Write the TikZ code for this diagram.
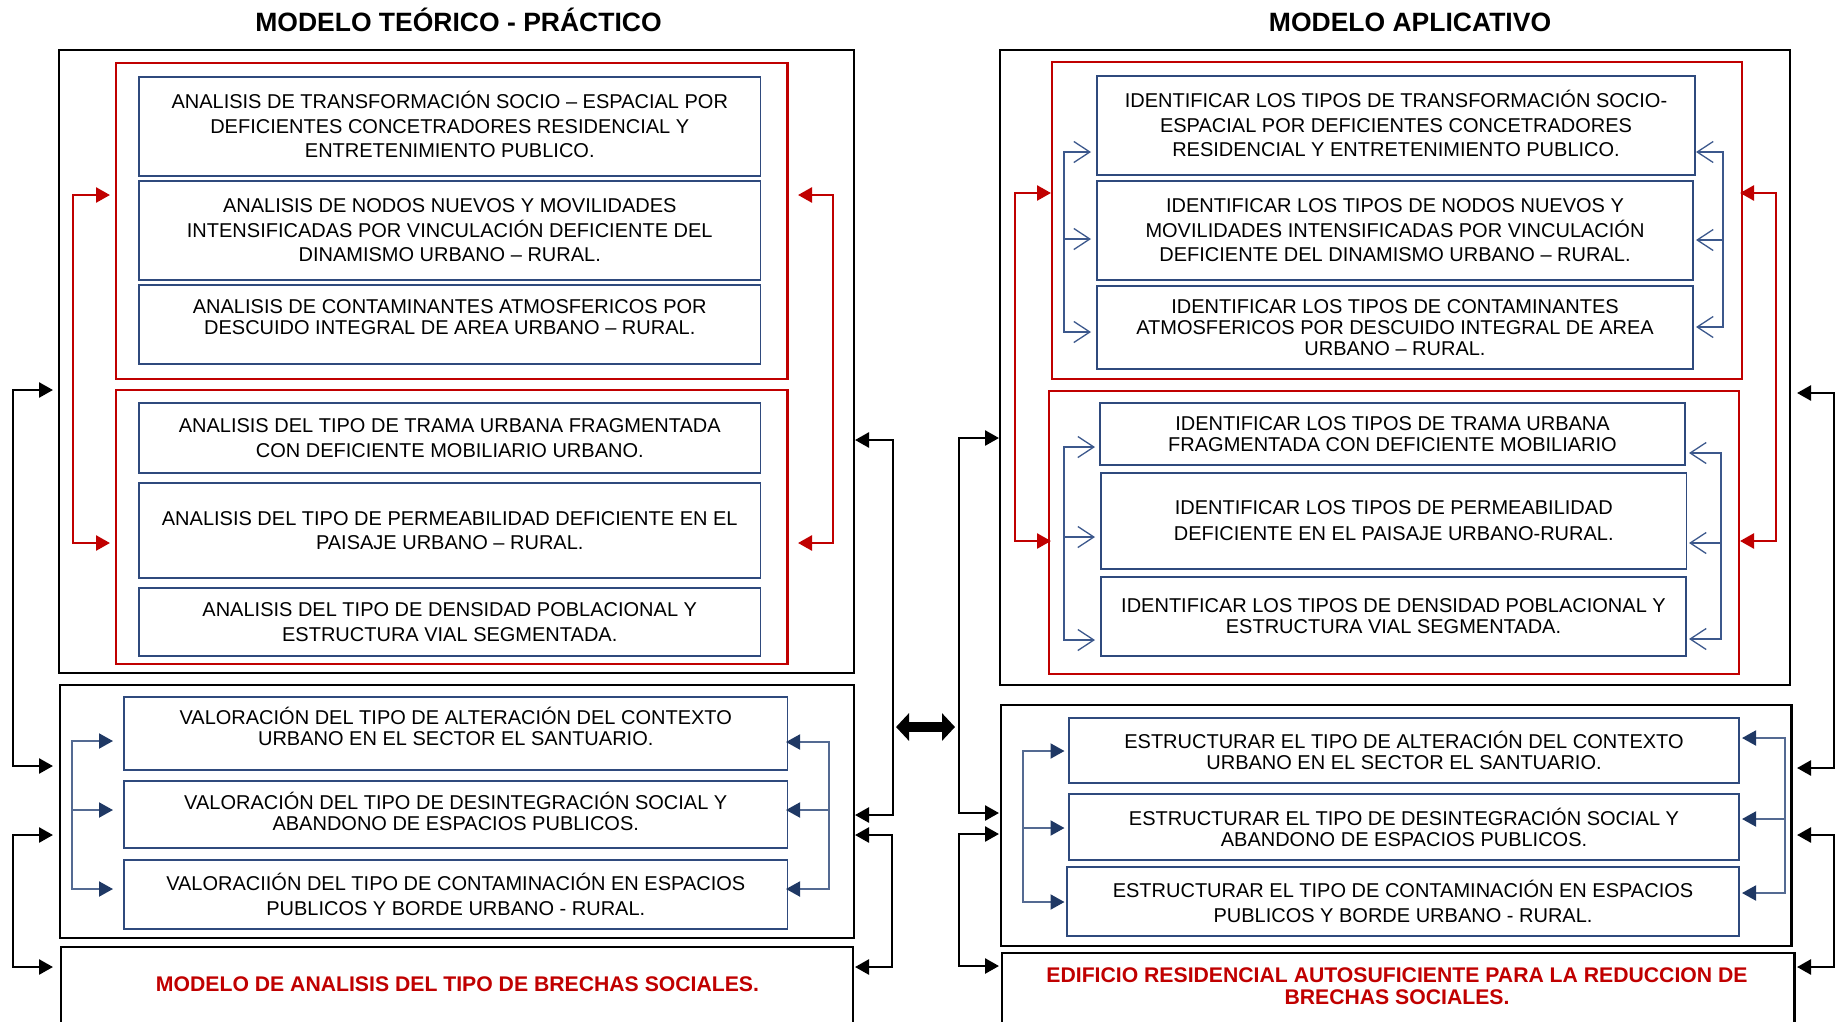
\documentclass[tikz,border=0pt]{standalone}
\usepackage{fontspec}
\setmainfont{Liberation Sans}
\usetikzlibrary{arrows.meta}
\definecolor{redc}{RGB}{192,0,0}
\definecolor{navyc}{RGB}{47,74,125}
\definecolor{headc}{RGB}{31,56,100}
\definecolor{linec}{RGB}{84,106,146}
\definecolor{openc}{RGB}{60,88,140}
\begin{document}
\begin{tikzpicture}[x=1pt,y=-1pt,
 obox/.style={draw=black,line width=2.6pt,inner sep=0pt},
 rbox/.style={draw=redc,line width=2.6pt,inner sep=0pt},
 bbox/.style={draw=navyc,line width=1.4pt,inner sep=0pt,align=center,font=\fontsize{20}{24.5}\selectfont},
 tightsp/.style={font=\fontsize{20}{21}\selectfont},
 btxt/.style={inner sep=0pt,align=center,font=\fontsize{20}{21}\selectfont},
 ttl/.style={font=\fontsize{26.5}{30}\selectfont\bfseries,anchor=base},
 redtxt/.style={text=redc,align=center,font=\fontsize{21.2}{22}\selectfont\bfseries},
 blk/.style={draw=black,line width=2.6pt,>={Triangle[length=14pt,width=15pt]}},
 redarr/.style={draw=redc,line width=2.6pt,>={Triangle[length=14pt,width=15pt]}},
 bluearr/.style={draw=linec,line width=2pt,>={Triangle[length=14pt,width=15pt,color=headc]}},
 openarr/.style={draw=openc,line width=1.3pt,>={Straight Barb[length=16pt,width=21pt]}},
 dblarr/.style={draw=black,line width=10pt,{Triangle[length=13pt,width=27pt]}-{Triangle[length=13pt,width=27pt]}}
]
\useasboundingbox (0,0) rectangle (1836,1021);
\clip (0,0) rectangle (1836,1021);

% titles
\node[ttl] (t1) at (458.5,31.5) {MODELO TEÓRICO - PRÁCTICO};
\node[ttl] (t2) at (1410,31.5) {MODELO APLICATIVO};

% ---------- left panel ----------
\node[obox,minimum width=795,minimum height=623] (L1) at (456.5,361.5) {};
\node[rbox,minimum width=671.5,minimum height=316] (LA) at (451.75,221) {};
\node[rbox,minimum width=671.5,minimum height=274] (LB) at (451.75,527) {};
\node[bbox,minimum width=621.5,minimum height=99] (B1) at (449.75,126.5) {};
\node[btxt,font=\fontsize{20}{24.5}\selectfont] (B1t) at (449.75,124.5)
 {ANALISIS DE TRANSFORMACIÓN SOCIO – ESPACIAL POR\\DEFICIENTES CONCETRADORES RESIDENCIAL Y\\ENTRETENIMIENTO PUBLICO.};
\node[bbox,minimum width=621.5,minimum height=99] (B2) at (449.75,230.5)
 {ANALISIS DE NODOS NUEVOS Y MOVILIDADES\\INTENSIFICADAS POR VINCULACIÓN DEFICIENTE DEL\\DINAMISMO URBANO – RURAL.};
\node[bbox,minimum width=621.5,minimum height=79] (B3) at (449.75,324.5) {};
\node[btxt] (B3t) at (449.75,317.5)
 {ANALISIS DE CONTAMINANTES ATMOSFERICOS POR\\DESCUIDO INTEGRAL DE AREA URBANO – RURAL.};
\node[bbox,minimum width=621.5,minimum height=70] (B4) at (449.75,438)
 {ANALISIS DEL TIPO DE TRAMA URBANA FRAGMENTADA\\CON DEFICIENTE MOBILIARIO URBANO.};
\node[bbox,minimum width=621.5,minimum height=95] (B5) at (449.75,530.5)
 {ANALISIS DEL TIPO DE PERMEABILIDAD DEFICIENTE EN EL\\PAISAJE URBANO – RURAL.};
\node[bbox,minimum width=621.5,minimum height=68] (B6) at (449.75,622)
 {ANALISIS DEL TIPO DE DENSIDAD POBLACIONAL Y\\ESTRUCTURA VIAL SEGMENTADA.};

\node[obox,minimum width=794,minimum height=253] (L2) at (457,811.5) {};
\node[bbox,minimum width=663.5,minimum height=73] (V1) at (455.75,733.5) {};
\node[btxt] (V1t) at (455.75,726)
 {VALORACIÓN DEL TIPO DE ALTERACIÓN DEL CONTEXTO\\URBANO EN EL SECTOR EL SANTUARIO.};
\node[bbox,minimum width=663.5,minimum height=67] (V2) at (455.75,814.5) {};
\node[btxt] (V2t) at (455.75,811)
 {VALORACIÓN DEL TIPO DE DESINTEGRACIÓN SOCIAL Y\\ABANDONO DE ESPACIOS PUBLICOS.};
\node[bbox,minimum width=663.5,minimum height=69] (V3) at (455.75,894.5)
 {VALORACIIÓN DEL TIPO DE CONTAMINACIÓN EN ESPACIOS\\PUBLICOS Y BORDE URBANO - RURAL.};

\node[obox,minimum width=792,minimum height=100] (L3) at (457,997) {};
\node[redtxt] (L3t) at (457.5,984) {MODELO DE ANALISIS DEL TIPO DE BRECHAS SOCIALES.};

% ---------- right panel ----------
\node[obox,minimum width=790,minimum height=635] (R1) at (1395,367.5) {};
\node[rbox,minimum width=690,minimum height=317] (RC) at (1397,220.5) {};
\node[rbox,minimum width=690,minimum height=283] (RD) at (1394,532.5) {};
\node[bbox,minimum width=598,minimum height=99] (RB1) at (1396,125.5) {};
\node[btxt,font=\fontsize{20}{24.5}\selectfont] (RB1t) at (1396,123.5)
 {IDENTIFICAR LOS TIPOS DE TRANSFORMACIÓN SOCIO-\\ESPACIAL POR DEFICIENTES CONCETRADORES\\RESIDENCIAL Y ENTRETENIMIENTO PUBLICO.};
\node[bbox,minimum width=596,minimum height=99] (RB2) at (1395,230.5)
 {IDENTIFICAR LOS TIPOS DE NODOS NUEVOS Y\\MOVILIDADES INTENSIFICADAS POR VINCULACIÓN\\DEFICIENTE DEL DINAMISMO URBANO – RURAL.};
\node[bbox,tightsp,minimum width=596,minimum height=83] (RB3) at (1395,327.5)
 {IDENTIFICAR LOS TIPOS DE CONTAMINANTES\\ATMOSFERICOS POR DESCUIDO INTEGRAL DE AREA\\URBANO – RURAL.};
\node[bbox,tightsp,minimum width=585,minimum height=62] (RB4) at (1392.5,434)
 {IDENTIFICAR LOS TIPOS DE TRAMA URBANA\\FRAGMENTADA CON DEFICIENTE MOBILIARIO};
\node[bbox,font=\fontsize{20}{26}\selectfont,minimum width=585.5,minimum height=96] (RB5) at (1393.75,521)
 {IDENTIFICAR LOS TIPOS DE PERMEABILIDAD\\DEFICIENTE EN EL PAISAJE URBANO-RURAL.};
\node[bbox,tightsp,minimum width=585,minimum height=79] (RB6) at (1393.5,616.5)
 {IDENTIFICAR LOS TIPOS DE DENSIDAD POBLACIONAL Y\\ESTRUCTURA VIAL SEGMENTADA.};

\node[obox,minimum width=790.5,minimum height=241] (R2) at (1396.25,825.5) {};
\node[bbox,tightsp,minimum width=670,minimum height=65] (E1) at (1404,750.5)
 {ESTRUCTURAR EL TIPO DE ALTERACIÓN DEL CONTEXTO\\URBANO EN EL SECTOR EL SANTUARIO.};
\node[bbox,tightsp,minimum width=670,minimum height=66] (E2) at (1404,827)
 {ESTRUCTURAR EL TIPO DE DESINTEGRACIÓN SOCIAL Y\\ABANDONO DE ESPACIOS PUBLICOS.};
\node[bbox,minimum width=672,minimum height=69] (E3) at (1403,901.5)
 {ESTRUCTURAR EL TIPO DE CONTAMINACIÓN EN ESPACIOS\\PUBLICOS Y BORDE URBANO - RURAL.};

\node[obox,minimum width=792.5,minimum height=100] (R3) at (1398.25,1003) {};
\node[redtxt] (R3t) at (1397,986) {EDIFICIO RESIDENCIAL AUTOSUFICIENTE PARA LA REDUCCION DE\\BRECHAS SOCIALES.};

% ---------- connector end points ----------
% red brackets
\coordinate (laL) at (110,195);  \coordinate (lbL) at (110,543);
\coordinate (laR) at (798,195);  \coordinate (lbR) at (798,543);
\coordinate (rcL) at (1051,193); \coordinate (rdL) at (1051,541);
\coordinate (rcR) at (1740,193); \coordinate (rdR) at (1740,541);
\draw[redarr,<->] (laL) -- ++(-37,0) |- (lbL);
\draw[redarr,<->] (laR) -- ++(35,0) |- (lbR);
\draw[redarr,<->] (rcL) -- ++(-36,0) |- (rdL);
\draw[redarr,<->] (rcR) -- ++(36,0) |- (rdR);

% filled blue arrows, left panel
\coordinate (v1L) at (113,741); \coordinate (v2L) at (113,810); \coordinate (v3L) at (113,889);
\coordinate (v1R) at (786,742); \coordinate (v2R) at (786,810); \coordinate (v3R) at (786,889);
\draw[bluearr,<->] (v1L) -- ++(-41,0) |- (v3L);
\draw[bluearr,->] ([xshift=-41pt]v2L) -- (v2L);
\draw[bluearr,<->] (v1R) -- ++(43,0) |- (v3R);
\draw[bluearr,->] ([xshift=43pt]v2R) -- (v2R);

% filled blue arrows, right panel
\coordinate (e1L) at (1064.5,751); \coordinate (e2L) at (1064.5,828); \coordinate (e3L) at (1064.5,902);
\coordinate (e1R) at (1742,738); \coordinate (e2R) at (1742,819); \coordinate (e3R) at (1742,893);
\draw[bluearr,<->] (e1L) -- ++(-41.5,0) |- (e3L);
\draw[bluearr,->] ([xshift=-41.5pt]e2L) -- (e2L);
\draw[bluearr,<->] (e1R) -- ++(42.5,0) |- (e3R);
\draw[bluearr,->] ([xshift=42.5pt]e2R) -- (e2R);

% open blue arrows, right panel
\coordinate (oc1L) at (1091,152); \coordinate (oc2L) at (1091,239); \coordinate (oc3L) at (1091,332);
\coordinate (oc1R) at (1696,152); \coordinate (oc2R) at (1696,240); \coordinate (oc3R) at (1696,327);
\draw[openarr,<->] (oc1L) -- ++(-27,0) |- (oc3L);
\draw[openarr,->] ([xshift=-27pt]oc2L) -- (oc2L);
\draw[openarr,<->] (oc1R) -- ++(27,0) |- (oc3R);
\draw[openarr,->] ([xshift=27pt]oc2R) -- (oc2R);
\coordinate (od1L) at (1095,447); \coordinate (od2L) at (1095,537); \coordinate (od3L) at (1095,640);
\coordinate (od1R) at (1689,453); \coordinate (od2R) at (1689,543); \coordinate (od3R) at (1689,639);
\draw[openarr,<->] (od1L) -- ++(-31,0) |- (od3L);
\draw[openarr,->] ([xshift=-31pt]od2L) -- (od2L);
\draw[openarr,<->] (od1R) -- ++(32,0) |- (od3R);
\draw[openarr,->] ([xshift=32pt]od2R) -- (od2R);

% black brackets
\coordinate (a1) at (53,390);   \coordinate (a2) at (53,766);
\coordinate (b1) at (53,835);   \coordinate (b2) at (53,967);
\coordinate (c1) at (855,440);  \coordinate (c2) at (855,815);
\coordinate (d1) at (855,835);  \coordinate (d2) at (855,967);
\coordinate (e1) at (999,438);  \coordinate (e2) at (999,813);
\coordinate (f1) at (999,834);  \coordinate (f2) at (999,966);
\coordinate (g1) at (1797,393); \coordinate (g2) at (1797,768);
\coordinate (h1) at (1797,835); \coordinate (h2) at (1797,967);
\draw[blk,<->] (a1) -- ++(-40,0) |- (a2);
\draw[blk,<->] (b1) -- ++(-40,0) |- (b2);
\draw[blk,<->] (c1) -- ++(38,0) |- (c2);
\draw[blk,<->] (d1) -- ++(37,0) |- (d2);
\draw[blk,<->] (e1) -- ++(-40,0) |- (e2);
\draw[blk,<->] (f1) -- ++(-40,0) |- (f2);
\draw[blk,<->] (g1) -- ++(37,0) |- (g2);
\draw[blk,<->] (h1) -- ++(37,0) |- (h2);

% central double arrow
\coordinate (dl) at (896,727); \coordinate (dr) at (955,727);
\draw[dblarr] (dl) -- (dr);
\end{tikzpicture}
\end{document}
